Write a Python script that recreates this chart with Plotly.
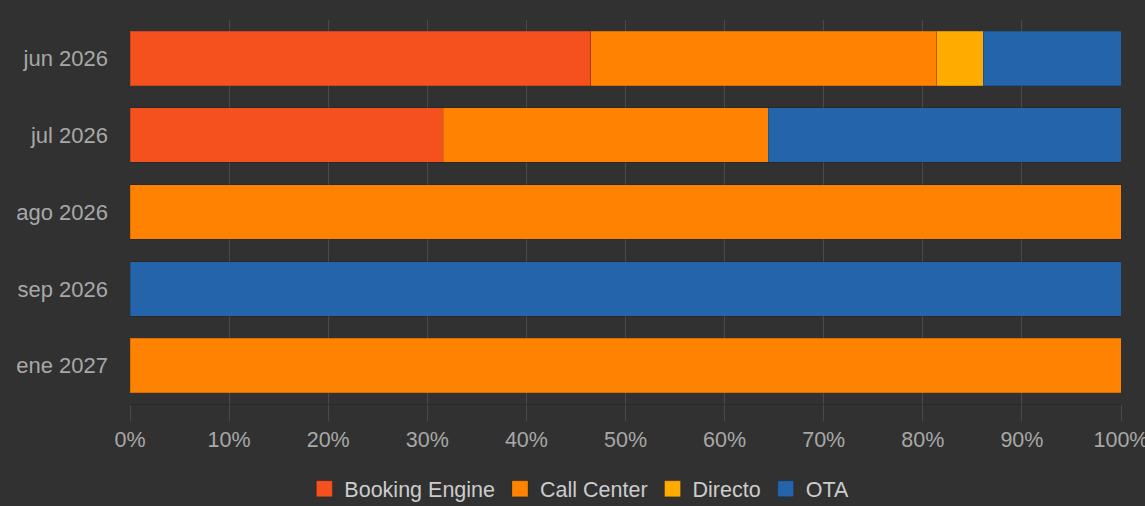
import plotly.graph_objects as go

months = ["jun 2026", "jul 2026", "ago 2026", "sep 2026", "ene 2027"]
channels = ["Booking Engine", "Call Center", "Directo", "OTA"]
booking_engine = [46.5, 31.6, 0, 0, 0]
call_center = [34.9, 32.8, 100, 0, 100]
directo = [4.7, 0, 0, 0, 0]
ota = [13.9, 35.6, 0, 100, 0]
colors = ["#f4511e", "#ff8300", "#ffab00", "#2364aa"]
tick_vals = [0, 10, 20, 30, 40, 50, 60, 70, 80, 90, 100]
tick_text = ["0%", "10%", "20%", "30%", "40%", "50%", "60%", "70%", "80%", "90%", "100%"]

BG = "#313131"
GRID = "#4a4a4a"
FONT = "Liberation Sans, Arial, sans-serif"

fig = go.Figure()
for name, vals, col in zip(channels, [booking_engine, call_center, directo, ota], colors):
    fig.add_trace(go.Bar(
        y=months, x=vals, name=name, orientation="h", showlegend=False,
        legendgroup=name,
        marker=dict(color=col, line=dict(color="rgba(0,0,0,0.15)", width=1)),
        hovertemplate="%{y}: %{x:.1f}%<extra>" + name + "</extra>",
    ))
# legend entries with larger square swatches
for name, col in zip(channels, colors):
    fig.add_trace(go.Scatter(
        x=[None], y=[None], mode="markers", name=name, legendgroup=name,
        marker=dict(symbol="square", size=16, color=col,
                    line=dict(color="rgba(0,0,0,0.2)", width=1)),
        showlegend=True, hoverinfo="skip",
    ))

fig.update_layout(
    barmode="stack",
    bargap=0.29,
    width=1145, height=506,
    paper_bgcolor=BG, plot_bgcolor=BG,
    margin=dict(l=130, r=24, t=20, b=102),
    font=dict(family=FONT, size=21, color="#a8a8a8"),
    legend=dict(
        orientation="h", xref="container", yref="container",
        x=0.506, xanchor="center", y=0.034, yanchor="middle",
        font=dict(size=21.5, color="#cccccc"),
        bgcolor="rgba(0,0,0,0)", traceorder="normal", itemsizing="trace",
    ),
    xaxis=dict(
        range=[0, 100], tickmode="array", tickvals=tick_vals, ticktext=tick_text,
        showgrid=True, gridcolor=GRID, gridwidth=1,
        ticks="outside", ticklen=16, tickcolor=GRID,
        zeroline=False, showline=True, linecolor="#282828",
        tickfont=dict(size=21.5, color="#a8a8a8"),
        ticklabeloverflow="allow", automargin=False,
        fixedrange=True,
    ),
    yaxis=dict(
        categoryorder="array", categoryarray=months, autorange="reversed",
        showgrid=False, zeroline=False, showline=False,
        ticks="", ticklabelstandoff=21, automargin=False,
        tickfont=dict(size=22, color="#a8a8a8"),
        fixedrange=True,
    ),
)

fig.write_html(
    "out.html",
    config={"displayModeBar": False},
    post_script="document.body.style.margin='0';document.body.style.background='#313131';",
)
